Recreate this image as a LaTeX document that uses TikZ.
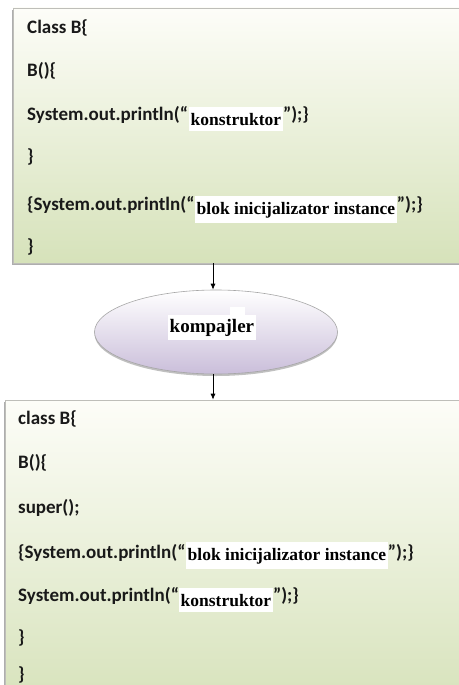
\documentclass[tikz,border=0pt]{standalone}
\usepackage{fontspec}
\newfontfamily\codefont{Carlito}
\newfontfamily\labelfont{Liberation Serif}
\usetikzlibrary{shapes.geometric,shadows,arrows.meta}
\definecolor{boxgreen}{RGB}{214,226,186}
\definecolor{boxtop}{RGB}{253,253,248}
\definecolor{lavender}{RGB}{202,190,218}
\definecolor{edgegray}{RGB}{190,190,185}
\begin{document}
\begin{tikzpicture}[x=1pt,y=-1pt,
  codebox/.style={draw=edgegray, line width=0.6pt, rectangle,
    top color=boxtop, bottom color=boxgreen,
    drop shadow={shadow xshift=-1pt, shadow yshift=-2pt, opacity=0.45, fill=black!70}},
  compbox/.style={ellipse, draw=black!35, line width=0.6pt,
    top color=white, bottom color=lavender,
    drop shadow={shadow xshift=0pt, shadow yshift=-2pt, opacity=0.35, fill=black!70}},
  code/.style={font=\codefont\bfseries\fontsize{19}{22}\selectfont, text=black!90,
    inner sep=0pt, anchor=base west},
  patch/.style={fill=white, inner ysep=5.5pt, inner xsep=1.5pt,
    font=\labelfont\bfseries\fontsize{17.5}{20}\selectfont, anchor=base west},
  flow/.style={-{Latex[length=6pt,width=5pt]}, line width=0.8pt}]
\useasboundingbox (0,0) rectangle (458,685);
\fill[white] (0,0) rectangle (458,685);
\coordinate (axis) at (213,0);

% source class
\node[codebox, minimum width=460pt, minimum height=255pt] (src) at (243,135.5) {};
\node[code] (s1) at (27,34) {Class B\{};
\node[code] (s2) at (27,77) {B()\{};
\node[code] (s3) at (27,120) {System.out.println(“};
\node[patch] (s3k) at (189,125) {konstruktor\hspace{5pt}};
\node[code] (s3e) at (s3k.east |- s3.base) {”);\}};
\node[code] (s4) at (27,162) {\}};
\node[code] (s5) at (27,210) {\{System.out.println(“};
\node[patch] (s5b) at (195,214) {blok inicijalizator instance};
\node[code] (s5e) at (s5b.east |- s5.base) {”);\}};
\node[code] (s6) at (27,252) {\}};

% compiler
\node[compbox, minimum width=243pt, minimum height=84pt, inner sep=0pt] (comp) at (216,332) {};
\fill[white] (230,307) rectangle (245,320);
\node[patch, inner ysep=3.5pt, font=\labelfont\bfseries\fontsize{19}{21}\selectfont] (compk) at (168,332) {kompajler\hspace{12pt}};

% compiled class
\node[codebox, minimum width=470pt, minimum height=310pt] (out) at (240,555) {};
\node[code] (o1) at (18,424) {class B\{};
\node[code] (o2) at (18,468) {B()\{};
\node[code] (o3) at (18,513) {super();};
\node[code] (o4) at (18,558) {\{System.out.println(“};
\node[patch] (o4b) at (186,560) {blok inicijalizator instance};
\node[code] (o4e) at (o4b.east |- o4.base) {”);\}};
\node[code] (o5) at (18,601) {System.out.println(“};
\node[patch] (o5k) at (179,606) {konstruktor\hspace{5pt}};
\node[code] (o5e) at (o5k.east |- o5.base) {”);\}};
\node[code] (o6) at (18,643) {\}};
\node[code] (o7) at (18,680) {\}};

% connectors
\draw[flow] (src.south -| axis) -- (comp.north -| axis);
\draw[flow] (comp.south -| axis) -- (out.north -| axis);
\end{tikzpicture}
\end{document}
